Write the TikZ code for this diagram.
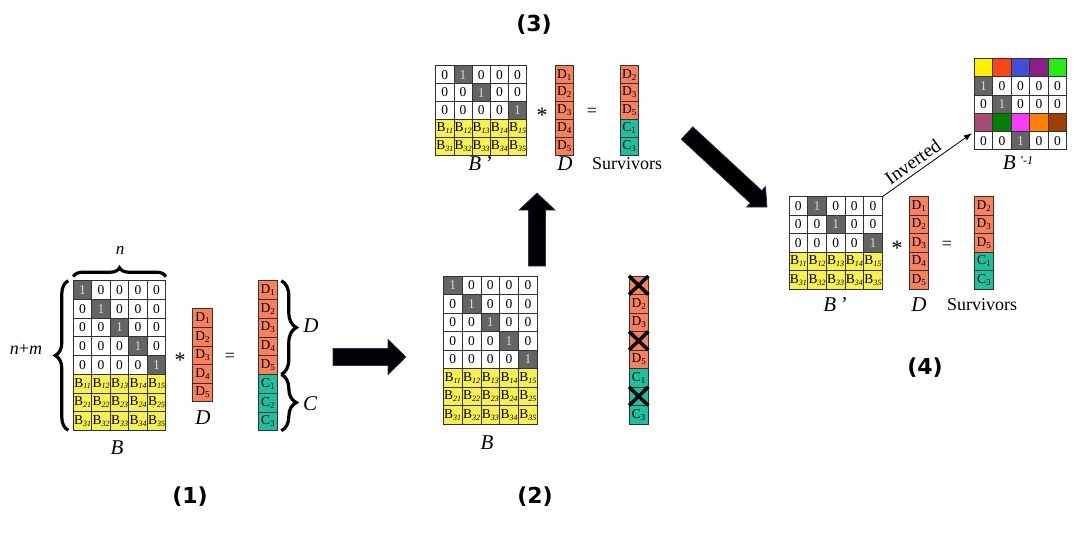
\documentclass[tikz,border=0pt]{standalone}
\usepackage{fontspec}
\setmainfont{Liberation Serif}
\newfontfamily\labfont{DejaVu Sans}
\usetikzlibrary{calc,decorations.pathreplacing,arrows.meta}
\definecolor{dk}{RGB}{100,100,100}
\definecolor{onegray}{RGB}{215,215,215}
\definecolor{yel}{RGB}{246,240,80}
\definecolor{org}{RGB}{248,128,92}
\definecolor{tea}{RGB}{30,192,160}
\definecolor{gridc}{RGB}{50,50,50}
\definecolor{navy}{RGB}{31,56,100}
\definecolor{cA}{RGB}{255,240,0}
\definecolor{cB}{RGB}{250,70,20}
\definecolor{cC}{RGB}{65,80,215}
\definecolor{cD}{RGB}{140,30,140}
\definecolor{cE}{RGB}{40,235,20}
\definecolor{cF}{RGB}{165,75,120}
\definecolor{cG}{RGB}{0,128,0}
\definecolor{cH}{RGB}{250,60,250}
\definecolor{cI}{RGB}{255,128,0}
\definecolor{cJ}{RGB}{160,64,0}
\tikzset{
  cell/.style={draw=gridc, line width=0.7pt, inner sep=0pt, outer sep=0pt, anchor=north west, font=\fontsize{13.5}{13.5}\selectfont},
  lbl/.style={inner sep=0pt, font=\fontsize{21}{21}\selectfont\itshape},
  txt/.style={inner sep=0pt, font=\fontsize{18}{18}\selectfont},
  opstar/.style={inner sep=0pt, font=\fontsize{22}{22}\selectfont},
  num/.style={inner sep=0pt, font=\labfont\bfseries\fontsize{22}{22}\selectfont},
  bracestyle/.style={decorate, line width=3.2pt},
  xmark/.style={line width=3.5pt},
  thinarrow/.style={line width=0.8pt, -{Latex[length=8pt,width=6pt]}},
}
\newcommand{\Bsub}[1]{B\raisebox{-1.8pt}{\fontsize{8}{8}\selectfont\itshape #1}}
\newcommand{\Vsub}[2]{#1\raisebox{-2pt}{\fontsize{9}{9}\selectfont #2}}
% prefix, x0, y0, w, h, rowno, darkcol
\newcommand{\idrow}[7]{%
  \foreach \c in {1,...,5}{%
    \pgfmathsetmacro{\xx}{#2+(\c-1)*#4}%
    \pgfmathsetmacro{\yy}{#3+(#6-1)*#5}%
    \ifnum\c=#7\relax
      \node[cell, fill=dk, text=onegray, minimum width=#4pt, minimum height=#5pt] (#1-#6-\c) at (\xx,\yy) {1};%
    \else
      \node[cell, fill=white, minimum width=#4pt, minimum height=#5pt] (#1-#6-\c) at (\xx,\yy) {0};%
    \fi}}
% prefix, x0, y0, w, h, rowno, bindex
\newcommand{\brow}[7]{%
  \foreach \c in {1,...,5}{%
    \pgfmathsetmacro{\xx}{#2+(\c-1)*#4}%
    \pgfmathsetmacro{\yy}{#3+(#6-1)*#5}%
    \node[cell, fill=yel, minimum width=#4pt, minimum height=#5pt] (#1-#6-\c) at (\xx,\yy) {\Bsub{#7\c}};}}
% prefix, x0, y0, w, h, rowno, colours
\newcommand{\colrow}[7]{%
  \foreach \col [count=\c] in {#7}{%
    \pgfmathsetmacro{\xx}{#2+(\c-1)*#4}%
    \pgfmathsetmacro{\yy}{#3+(#6-1)*#5}%
    \node[cell, fill=\col, minimum width=#4pt, minimum height=#5pt] (#1-#6-\c) at (\xx,\yy) {};}}
% name, x, y0, w, h, index, fill, text
\newcommand{\vcell}[8]{%
  \pgfmathsetmacro{\yy}{#3+(#6-1)*#5}%
  \node[cell, fill=#7, minimum width=#4pt, minimum height=#5pt] (#1) at (#2,\yy) {#8};}
% start, end, head length, head half width
\newcommand{\blockarrow}[4]{%
  \coordinate (ba-hb) at ($(#2)!#3pt!(#1)$);
  \filldraw[fill=black, draw=navy, line width=0.7pt]
    ($(#1)!8.5pt!90:(#2)$) -- ($(ba-hb)!8.5pt!90:(#2)$) -- ($(ba-hb)!#4pt!90:(#2)$) -- (#2)
    -- ($(ba-hb)!#4pt!-90:(#2)$) -- ($(ba-hb)!8.5pt!-90:(#2)$) -- ($(#1)!8.5pt!-90:(#2)$) -- cycle;}
\begin{document}
\begin{tikzpicture}[x=1pt,y=-1pt]
\fill[white] (0,0) rectangle (1083,533);
\useasboundingbox (0,0) rectangle (1083,533);

% ---------- Panel 1 ----------
\foreach \r in {1,...,5} {\idrow{pa}{73.3}{280.7}{18.5}{18.7}{\r}{\r}}
\foreach \r/\i in {6/1,7/2,8/3} {\brow{pa}{73.3}{280.7}{18.5}{18.7}{\r}{\i}}
\foreach \k in {1,...,5} {\vcell{pad-\k}{192.7}{308.7}{19.6}{18.6}{\k}{org}{\Vsub{D}{\k}}}
\foreach \k in {1,...,5} {\vcell{par-\k}{258.3}{280.7}{19}{18.75}{\k}{org}{\Vsub{D}{\k}}}
\foreach \k/\j in {6/1,7/2,8/3} {\vcell{par-\k}{258.3}{280.7}{19}{18.75}{\k}{tea}{\Vsub{C}{\j}}}
\node[opstar] (pa-star) at (180,360) {*};
\node[txt] (pa-eq) at (230,357) {=};
\node[lbl] (pa-B) at (117,448) {B};
\node[lbl] (pa-D) at (203,418) {D};
\draw[bracestyle, decoration={brace,amplitude=9pt}] ($(pa-1-1.north west)+(0,-4)$) -- ($(pa-1-5.north east)+(0,-4)$);
\node[lbl, font=\fontsize{17}{17}\selectfont\itshape] (pa-n) at (120,250) {n};
\draw[bracestyle, decoration={brace,amplitude=13pt}] ($(pa-8-1.south west)+(-5,0)$) -- ($(pa-1-1.north west)+(-5,0)$);
\node[lbl, font=\fontsize{18}{18}\selectfont\itshape] (pa-nm) at (26,349) {n\textup{+}m};
\draw[bracestyle, decoration={brace,amplitude=15pt}] ($(par-1.north east)+(4,0)$) -- ($(par-5.south east)+(4,0)$);
\draw[bracestyle, decoration={brace,amplitude=15pt}] ($(par-6.north east)+(4,0)$) -- ($(par-8.south east)+(4,0)$);
\node[lbl] (pa-Dl) at (311,326) {D};
\node[lbl] (pa-Cl) at (310,404) {C};
\node[num] (n1) at (190,497) {(1)};

% arrow 1 -> 2
\coordinate (a1s) at (333,357);
\coordinate (a1e) at (406,357);
\blockarrow{a1s}{a1e}{18}{17.5}

% ---------- Panel 2 ----------
\foreach \r in {1,...,5} {\idrow{pb}{443.3}{276}{18.8}{18.5}{\r}{\r}}
\foreach \r/\i in {6/1,7/2,8/3} {\brow{pb}{443.3}{276}{18.8}{18.5}{\r}{\i}}
\foreach \k/\f/\t in {1/org/{},2/org/{\Vsub{D}{2}},3/org/{\Vsub{D}{3}},4/org/{},5/org/{\Vsub{D}{5}},6/tea/{\Vsub{C}{1}},7/tea/{},8/tea/{\Vsub{C}{3}}}
  {\vcell{pbv-\k}{629}{276}{19.3}{18.5}{\k}{\f}{\t}}
\foreach \k in {1,4,7} {\draw[xmark] (pbv-\k.north west) -- (pbv-\k.south east) (pbv-\k.north east) -- (pbv-\k.south west);}
\node[lbl] (pb-B) at (487,443) {B};
\node[num] (n2) at (535,497) {(2)};

% arrow 2 -> 3
\coordinate (a2s) at (537,266);
\coordinate (a2e) at (537,193);
\blockarrow{a2s}{a2e}{17}{18}

% ---------- Panel 3 ----------
\idrow{pc}{435.7}{65.7}{18.2}{17.9}{1}{2}
\idrow{pc}{435.7}{65.7}{18.2}{17.9}{2}{3}
\idrow{pc}{435.7}{65.7}{18.2}{17.9}{3}{5}
\brow{pc}{435.7}{65.7}{18.2}{17.9}{4}{1}
\brow{pc}{435.7}{65.7}{18.2}{17.9}{5}{3}
\foreach \k in {1,...,5} {\vcell{pcd-\k}{555}{65.7}{18.3}{17.9}{\k}{org}{\Vsub{D}{\k}}}
\foreach \k/\f/\t in {1/org/{\Vsub{D}{2}},2/org/{\Vsub{D}{3}},3/org/{\Vsub{D}{5}},4/tea/{\Vsub{C}{1}},5/tea/{\Vsub{C}{3}}}
  {\vcell{pcs-\k}{620}{65.7}{18.3}{17.9}{\k}{\f}{\t}}
\node[opstar] (pc-star) at (542,115) {*};
\node[txt] (pc-eq) at (592,112) {=};
\node[lbl] (pc-B) at (480,164) {B\,’};
\node[lbl] (pc-D) at (565,164) {D};
\node[txt] (pc-S) at (627,164) {Survivors};
\node[num] (n3) at (534,25) {(3)};

% arrow 3 -> 4
\coordinate (a3s) at (687,133);
\coordinate (a3e) at (767,207);
\blockarrow{a3s}{a3e}{15}{14}

% ---------- Panel 4 ----------
\idrow{pd}{789}{196.7}{18.66}{18.5}{1}{2}
\idrow{pd}{789}{196.7}{18.66}{18.5}{2}{3}
\idrow{pd}{789}{196.7}{18.66}{18.5}{3}{5}
\brow{pd}{789}{196.7}{18.66}{18.5}{4}{1}
\brow{pd}{789}{196.7}{18.66}{18.5}{5}{3}
\foreach \k in {1,...,5} {\vcell{pdd-\k}{909.3}{196.7}{19}{18.5}{\k}{org}{\Vsub{D}{\k}}}
\foreach \k/\f/\t in {1/org/{\Vsub{D}{2}},2/org/{\Vsub{D}{3}},3/org/{\Vsub{D}{5}},4/tea/{\Vsub{C}{1}},5/tea/{\Vsub{C}{3}}}
  {\vcell{pds-\k}{974.3}{196.7}{19}{18.5}{\k}{\f}{\t}}
\node[opstar] (pd-star) at (897,248) {*};
\node[txt] (pd-eq) at (947,245) {=};
\node[lbl] (pd-B) at (835,305) {B\,’};
\node[lbl] (pd-D) at (919,305) {D};
\node[txt] (pd-S) at (982,305) {Survivors};

\colrow{pe}{974.3}{58.3}{18.5}{18.3}{1}{cA,cB,cC,cD,cE}
\idrow{pe}{974.3}{58.3}{18.5}{18.3}{2}{1}
\idrow{pe}{974.3}{58.3}{18.5}{18.3}{3}{2}
\colrow{pe}{974.3}{58.3}{18.5}{18.3}{4}{cF,cG,cH,cI,cJ}
\idrow{pe}{974.3}{58.3}{18.5}{18.3}{5}{3}
\node[lbl] (pe-B) at (1018,163) {B\,\raisebox{5pt}{\fontsize{12}{12}\selectfont ’-1}};

\draw[thinarrow, shorten >=3pt] (pd-1-5.north east) -- node[sloped, above, pos=0.4, inner sep=4pt, font=\fontsize{19}{19}\selectfont] (inv-lab) {Inverted} (pe-4-1.south west);
\node[num] (n4) at (925,368) {(4)};
\end{tikzpicture}
\end{document}
